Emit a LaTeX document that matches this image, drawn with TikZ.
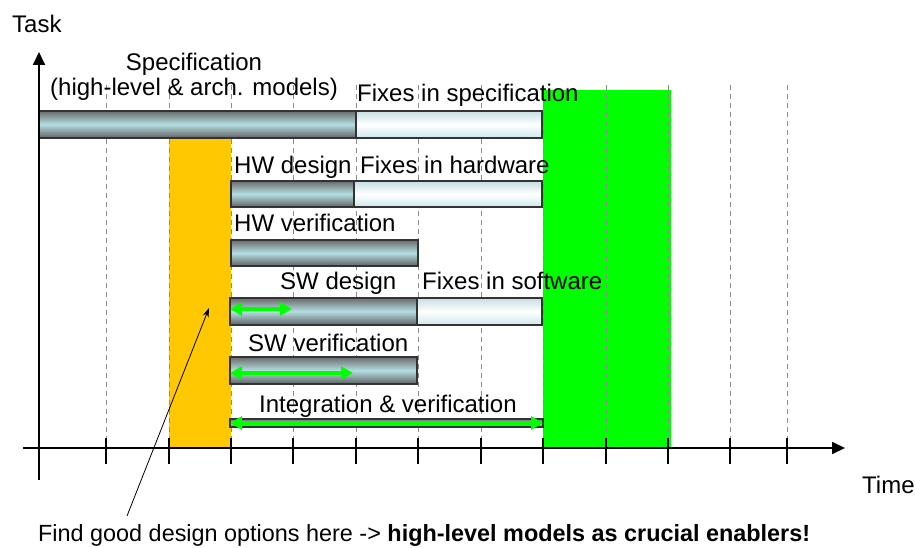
\documentclass[tikz,border=0pt]{standalone}
\usepackage{fontspec}
\setmainfont{Liberation Sans}
\usetikzlibrary{arrows.meta}

\definecolor{zoneorange}{HTML}{FFC800}
\definecolor{zonegreen}{HTML}{00FF00}
\definecolor{barcyan}{HTML}{B4DEE2}
\definecolor{barlight}{HTML}{CDE9EB}

\tikzset{
	lbl/.style={font=\fontsize{24}{28}\selectfont, inner sep=0pt, anchor=base west},
	darkbar/.style={draw=black!80, line width=1.2pt, top color=black!58, bottom color=black!62, middle color=barcyan},
	lightbar/.style={draw=black!80, line width=1.2pt, top color=barlight!90!gray, bottom color=barlight, middle color=white},
	gridline/.style={draw=black!45, line width=1pt, dash pattern=on 5pt off 4pt},
	axisline/.style={line width=1.8pt, -{Triangle[length=13pt,width=12pt]}},
	tickline/.style={line width=2pt},
	greenarrow/.style={draw=zonegreen, line width=4.2pt, {Triangle[length=12pt,width=13pt]}-{Triangle[length=12pt,width=13pt]}},
}

\begin{document}
\begin{tikzpicture}[x=1pt,y=-1pt]
	\useasboundingbox (0,0) rectangle (915,548);
	% phases
	\fill[zoneorange] (169,138) rectangle (231,448);
	\fill[zonegreen] (543,90) rectangle (671,448);
	\foreach \x in {106,169,231,293,356,418,481,543,606,668,730,787}
		\draw[gridline] (\x,85) -- (\x,438);
	% task bars
	\path[darkbar] (39,111) rectangle (356,138);
	\path[lightbar] (356,111) rectangle (542,138);
	\path[darkbar] (231,181) rectangle (354,207);
	\path[lightbar] (354,181) rectangle (542,207);
	\path[darkbar] (231,240) rectangle (418,266);
	\path[darkbar] (230,298) rectangle (417,325);
	\path[lightbar] (417,298) rectangle (542,325);
	\path[darkbar] (230,357) rectangle (417,384);
	\path[darkbar] (230,419) rectangle (543,427);
	% axes
	\draw[axisline] (39,480) -- (39,52);
	\draw[axisline] (23,448) -- (845,448);
	\foreach \x in {106,169,231,293,356,418,481,543,606,668,730,787}
		\draw[tickline] (\x,438) -- (\x,464);
	% labels
	\node[lbl] (task) at (12,33) {Task};
	\node[lbl, anchor=base] (spec) at (194,71) {Specification};
	\node[lbl, anchor=base] (specsub) at (194,96) {(high-level \& arch. models)};
	\node[lbl] (fixspec) at (357,102) {Fixes in specification};
	\node[lbl] (hwd) at (234,174) {HW design};
	\node[lbl] (fixhw) at (360,174) {Fixes in hardware};
	\node[lbl] (hwv) at (234,231) {HW verification};
	\node[lbl] (swd) at (280,289) {SW design};
	\node[lbl] (fixsw) at (422,289) {Fixes in software};
	\node[lbl] (swv) at (248,351) {SW verification};
	\node[lbl] (integ) at (259,412) {Integration \& verification};
	\node[lbl] (time) at (862,493) {Time};
	\node[lbl, font=\fontsize{23.4}{28}\selectfont] (note) at (38,541) {Find good design options here -> \textbf{high-level models as crucial enablers!}};
	% green arrows
	\coordinate (swdA) at (230,309);
	\coordinate (swdB) at (292,309);
	\coordinate (swvA) at (230,373);
	\coordinate (swvB) at (353,373);
	\coordinate (intA) at (230,423);
	\coordinate (intB) at (543,423);
	\draw[greenarrow] (swdA) -- (swdB);
	\draw[greenarrow] (swvA) -- (swvB);
	\draw[greenarrow] (intA) -- (intB);
	% pointer
	\coordinate (pickfrom) at (127,516);
	\coordinate (pickto) at (209,308);
	\draw[line width=0.8pt, -{Stealth[length=9pt,width=6pt]}] (pickfrom) -- (pickto);
\end{tikzpicture}
\end{document}
